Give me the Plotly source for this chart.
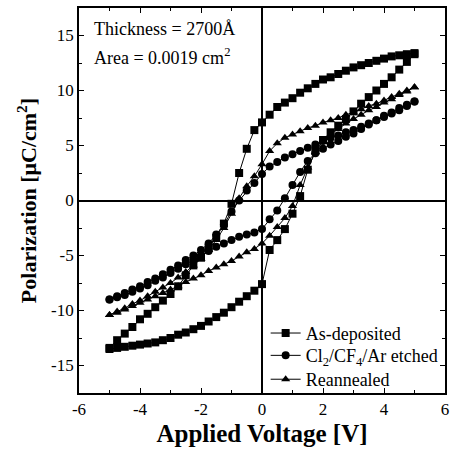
import plotly.graph_objects as go

# Applied voltage grid (V), ascending
voltage = [-5.0, -4.75, -4.5, -4.25, -4.0, -3.75, -3.5, -3.25, -3.0, -2.75, -2.5,
           -2.25, -2.0, -1.75, -1.5, -1.25, -1.0, -0.75, -0.5, -0.25, 0.0,
           0.25, 0.5, 0.75, 1.0, 1.25, 1.5, 1.75, 2.0, 2.25, 2.5,
           2.75, 3.0, 3.25, 3.5, 3.75, 4.0, 4.25, 4.5, 4.75, 5.0]

# As-deposited: lower branch (sweep up) and upper branch (sweep down), given at ascending voltages
asdep_lower = [-13.5, -13.4, -13.3, -13.2, -13.1, -13.0, -12.9, -12.7, -12.5, -12.2, -12.0,
               -11.7, -11.4, -11.0, -10.6, -10.2, -9.7, -9.2, -8.7, -8.2, -7.6,
               -4.5, -3.6, -2.6, -1.2, 0.4, 2.8, 4.5, 5.5, 6.2, 6.8,
               7.4, 8.1, 8.8, 9.4, 10.0, 10.6, 11.2, 11.9, 12.6, 13.3]
asdep_upper = [-13.4, -12.7, -12.1, -11.5, -10.8, -10.3, -9.7, -9.1, -8.5, -7.8, -6.8,
               -5.9, -5.2, -4.3, -3.4, -2.1, -0.3, 2.5, 4.7, 6.4, 7.1,
               7.8, 8.5, 8.9, 9.3, 9.8, 10.2, 10.6, 11.0, 11.2, 11.5,
               11.8, 12.1, 12.3, 12.5, 12.7, 12.9, 13.1, 13.2, 13.3, 13.4]

# Cl2/CF4/Ar etched
etched_lower = [-9.0, -8.8, -8.6, -8.3, -8.0, -7.7, -7.3, -7.0, -6.6, -6.2, -5.8,
                -5.4, -5.0, -4.6, -4.2, -3.9, -3.6, -3.3, -3.1, -2.9, -2.6,
                -1.7, -0.9, 0.2, 1.4, 2.6, 3.6, 4.3, 4.7, 5.1, 5.4,
                5.8, 6.1, 6.5, 6.9, 7.3, 7.7, 8.0, 8.4, 8.7, 9.0]
etched_upper = [-9.0, -8.7, -8.4, -8.1, -7.8, -7.4, -7.1, -6.7, -6.3, -5.9, -5.4,
                -5.0, -4.5, -3.9, -3.1, -2.2, -1.0, 0.0, 0.9, 1.6, 2.4,
                3.1, 3.5, 3.9, 4.2, 4.5, 4.8, 5.1, 5.4, 5.7, 5.9,
                6.2, 6.4, 6.7, 7.0, 7.3, 7.6, 7.9, 8.2, 8.6, 9.0]

# Reannealed
rean_lower = [-10.4, -10.2, -9.9, -9.6, -9.3, -9.0, -8.7, -8.4, -8.1, -7.8, -7.4,
              -7.1, -6.8, -6.4, -6.1, -5.8, -5.5, -5.1, -4.7, -4.4, -3.9,
              -3.2, -2.4, -1.6, -0.5, 1.4, 3.0, 4.4, 5.4, 6.0, 6.5,
              7.0, 7.4, 7.8, 8.2, 8.5, 8.9, 9.2, 9.6, 9.9, 10.3]
rean_upper = [-10.4, -10.1, -9.8, -9.4, -9.1, -8.7, -8.3, -7.9, -7.5, -7.0, -6.5,
              -5.9, -5.3, -4.5, -3.6, -2.5, -1.2, 0.2, 1.3, 2.2, 3.3,
              4.5, 5.2, 5.7, 6.0, 6.3, 6.6, 6.8, 7.1, 7.3, 7.5,
              7.8, 8.0, 8.3, 8.6, 8.8, 9.1, 9.4, 9.7, 10.0, 10.3]

series_names = ["As-deposited", "Cl<sub>2</sub>/CF<sub>4</sub>/Ar etched", "Reannealed"]
series_lower = [asdep_lower, etched_lower, rean_lower]
series_upper = [asdep_upper, etched_upper, rean_upper]
series_symbols = ["square", "circle", "triangle-up"]

x_ticks = [-6, -4, -2, 0, 2, 4, 6]
x_tick_text = ["-6", "-4", "-2", "0", "2", "4", "6"]
y_ticks = [-15, -10, -5, 0, 5, 10, 15]
y_tick_text = ["-15", "-10", "-5", "0", "5", "10", "15"]

FONT = "Liberation Serif"
legend_ids = ["legend", "legend2", "legend3"]
legend_y = [0.155, 0.097, 0.035]

fig = go.Figure()
for name, lo, up, sym, lid in zip(series_names, series_lower, series_upper, series_symbols, legend_ids):
    xs = voltage + voltage[::-1]
    ys = lo + up[::-1]
    fig.add_trace(go.Scatter(
        x=xs, y=ys, mode="lines+markers", name=name, legend=lid,
        line=dict(color="black", width=1),
        marker=dict(symbol=sym, size=8, color="black"),
    ))

axis_common = dict(
    showline=True, linecolor="black", linewidth=1.8, mirror="ticks",
    ticks="inside", ticklen=5, tickwidth=1, tickcolor="black",
    showgrid=False, zeroline=True, zerolinecolor="black", zerolinewidth=1.5,
    tickfont=dict(family=FONT, size=17, color="black"),
)

legends = {}
for lid, ly in zip(legend_ids, legend_y):
    legends[lid] = dict(x=0.51, y=ly, xanchor="left", yanchor="middle",
                        bgcolor="rgba(0,0,0,0)", font=dict(family=FONT, size=18),
                        itemwidth=30, borderwidth=0)

fig.update_layout(
    width=454, height=455,
    margin=dict(l=79, r=5, t=8, b=62),
    paper_bgcolor="white", plot_bgcolor="white",
    font=dict(family=FONT, color="black"),
    showlegend=True,
    xaxis=dict(range=[-6, 6], tickvals=x_ticks, ticktext=x_tick_text,
               minor=dict(dtick=1, ticks="inside", ticklen=3, tickcolor="black"),
               title=dict(text="<b>Applied Voltage [V]</b>", font=dict(family=FONT, size=25), standoff=6),
               **axis_common),
    yaxis=dict(range=[-17.5, 17.5], tickvals=y_ticks, ticktext=y_tick_text,
               minor=dict(dtick=2.5, ticks="inside", ticklen=3, tickcolor="black"),
               title=dict(text="<b>Polarization [μC/cm<sup>2</sup>]</b>", font=dict(family=FONT, size=22), standoff=8),
               **axis_common),
    annotations=[
        dict(text="Thickness = 2700Å", xref="paper", yref="paper", x=0.035, y=0.945,
             xanchor="left", yanchor="middle", showarrow=False, font=dict(family=FONT, size=18)),
        dict(text="Area = 0.0019 cm<sup>2</sup>", xref="paper", yref="paper", x=0.035, y=0.875,
             xanchor="left", yanchor="middle", showarrow=False, font=dict(family=FONT, size=18)),
    ],
    **legends,
)

fig.write_html("out.html")
